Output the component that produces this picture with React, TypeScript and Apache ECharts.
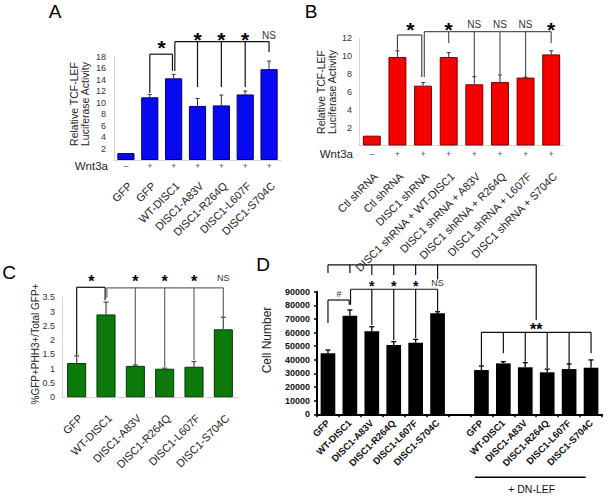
import React, { useEffect, useRef } from "react";
import * as echarts from "echarts";

const FONT = '"Liberation Sans", Arial, sans-serif';

// ---------- Panel A ----------
const aCategories = ["GFP", "GFP", "WT-DISC1", "DISC1-A83V", "DISC1-R264Q", "DISC1-L607F", "DISC1-S704C"];
const aWnt3a = ["–", "+", "+", "+", "+", "+", "+"];
const aValues = [1.2, 10.9, 14.2, 9.4, 9.5, 11.4, 15.8];
const aErrors = [0, 0.5, 0.7, 1.3, 1.8, 0.6, 1.4];
const aTicks = [0, 18, 2];

// ---------- Panel B ----------
const bCategories = [
  "Ctl shRNA",
  "Ctl shRNA",
  "DISC1 shRNA",
  "DISC1 shRNA + WT-DISC1",
  "DISC1 shRNA + A83V",
  "DISC1 shRNA + R264Q",
  "DISC1 shRNA + L607F",
  "DISC1 shRNA + S704C",
];
const bWnt3a = ["–", "+", "+", "+", "+", "+", "+", "+"];
const bValues = [1.1, 9.9, 6.7, 9.9, 6.85, 7.1, 7.6, 10.2];
const bErrors = [0, 0.7, 0.35, 0.5, 0.85, 0.8, 0.05, 0.4];
const bTicks = [0, 12, 2];

// ---------- Panel C ----------
const cCategories = ["GFP", "WT-DISC1", "DISC1-A83V", "DISC1-R264Q", "DISC1-L607F", "DISC1-S704C"];
const cValues = [1.2, 2.9, 1.1, 1.0, 1.07, 2.38];
const cErrors = [0.25, 0.43, 0.03, 0.02, 0.18, 0.42];
const cTicks = [0, 3.5, 0.5];

// ---------- Panel D ----------
const dCategories = [
  "GFP", "WT-DISC1", "DISC1-A83V", "DISC1-R264Q", "DISC1-L607F", "DISC1-S704C",
  "",
  "GFP", "WT-DISC1", "DISC1-A83V", "DISC1-R264Q", "DISC1-L607F", "DISC1-S704C",
];
const dValues = [44800, 72400, 60900, 50900, 52600, 74100, null, 32500, 37400, 34500, 30800, 33200, 34200];
const dErrors = [2400, 4200, 3400, 2400, 2400, 1200, 0, 3000, 1200, 3400, 2400, 3700, 5700];
const dTicks = [0, 90000, 10000];

// ---------- Significance annotations (data coordinates: category index, value) ----------
type Bracket = { y: number; from: number; to: number; drops: number[][]; color: string };
const aBrackets: Bracket[] = [
  { y: 18.4, from: 1, to: 1.95, drops: [[1, 11.65], [1.95, 15.5]], color: "#111" },
  { y: 20.6, from: 2.05, to: 6, drops: [[2.05, 15.5], [3, 12.7], [4, 12.7], [5, 12.7], [6, 18.8]], color: "#111" },
];
const aMarks: [string, number, number][] = [["*", 1.5, 20.3], ["*", 3, 21.7], ["*", 4, 21.7], ["*", 5, 21.7], ["NS", 6, 21.7]];

const bBrackets: Bracket[] = [
  { y: 12.37, from: 1, to: 1.95, drops: [[1, 10.7], [1.95, 7.67]], color: "#444" },
  { y: 12.74, from: 2.05, to: 7, drops: [[2.05, 7.67], [3, 11.48], [4, 7.67], [5, 8.0], [6, 7.56], [7, 11.48]], color: "#555" },
];
const bMarks: [string, number, number][] = [["*", 1.5, 13.5], ["*", 3, 13.5], ["NS", 4, 13.5], ["NS", 5, 13.5], ["NS", 6, 13.5], ["*", 7, 13.5]];

const cBrackets: Bracket[] = [
  { y: 3.85, from: 0, to: 0.97, drops: [[0, 1.48], [0.97, 3.4]], color: "#111" },
  { y: 3.83, from: 1.03, to: 5, drops: [[1.03, 3.48], [2, 1.13], [3, 1.06], [4, 1.3], [5, 2.81]], color: "#666" },
];
const cMarks: [string, number, number][] = [["*", 0.5, 4.18], ["*", 2, 4.18], ["*", 3, 4.18], ["*", 4, 4.18], ["NS", 5, 4.18]];

const dBrackets: Bracket[] = [
  { y: 109700, from: 0, to: 9.5, drops: [[0, 103700], [1, 103700], [2, 102300], [3, 102300], [4, 102300], [5, 99000], [9.5, 69300]], color: "#111" },
  { y: 83900, from: 0, to: 0.97, drops: [[0, 67000], [0.97, 80400]], color: "#111" },
  { y: 91800, from: 1.03, to: 5, drops: [[1.03, 80400], [2, 65600], [3, 54600], [4, 56000], [5, 75300]], color: "#111" },
  { y: 60200, from: 7, to: 12, drops: [[7, 36200], [8, 44800], [9, 38600], [10, 34000], [11, 36900], [12, 44800]], color: "#111" },
];
const dMarks: [string, number, number][] = [["#", 0.5, 88300], ["*", 2, 96600], ["*", 3, 96600], ["*", 4, 96600], ["NS", 5, 96600], ["**", 9.5, 64800]];

const errRender = (color: string, lw: number, cap: number) => (params: any, api: any) => {
  const x = api.value(0);
  const v = api.value(1);
  const u = api.value(2);
  const p0 = api.coord([x, v]);
  const p1 = api.coord([x, u]);
  return {
    type: "group",
    children: [
      { type: "line", shape: { x1: p0[0], y1: p0[1], x2: p1[0], y2: p1[1] }, style: { stroke: color, lineWidth: lw } },
      { type: "line", shape: { x1: p1[0] - cap, y1: p1[1], x2: p1[0] + cap, y2: p1[1] }, style: { stroke: color, lineWidth: lw } },
    ],
  };
};

const errData = (vals: (number | null)[], errs: number[]) =>
  vals
    .map((v, i) => (v == null || !errs[i] ? null : [i, v, v + errs[i]]))
    .filter((d) => d !== null) as number[][];

const lightLine = { show: true, lineStyle: { color: "#d4d4d4", width: 1 } };
const hideZero = (v: number) => (v === 0 ? "" : String(v));

function buildOption(): any {
  const catLabel = (extra: any) => ({ interval: 0, fontFamily: FONT, color: "#222", ...extra });
  return {
    animation: false,
    backgroundColor: "#ffffff",
    grid: [
      { left: 114, top: 56.5, width: 167, height: 103.5 },
      { left: 359, top: 38.3, width: 205, height: 107.2 },
      { left: 62, top: 297.3, width: 176, height: 100 },
      { left: 317, top: 291.7, width: 285, height: 122.6 },
    ],
    xAxis: [
      { gridIndex: 0, type: "category", position: "bottom", data: aWnt3a, axisLine: lightLine, axisTick: { show: false },
        axisLabel: catLabel({ fontSize: 9, color: "#555", margin: 1 }) },
      { gridIndex: 0, type: "category", position: "bottom", data: aCategories, axisLine: { show: false }, axisTick: { show: false },
        axisLabel: catLabel({ fontSize: 11, rotate: 45, margin: 20, verticalAlign: "top" }) },
      { gridIndex: 1, type: "category", position: "bottom", data: bWnt3a, axisLine: lightLine, axisTick: { show: false },
        axisLabel: catLabel({ fontSize: 9, color: "#555", margin: 4 }) },
      { gridIndex: 1, type: "category", position: "bottom", data: bCategories, axisLine: { show: false }, axisTick: { show: false },
        axisLabel: catLabel({ fontSize: 11, rotate: 45, margin: 25, verticalAlign: "top" }) },
      { gridIndex: 2, type: "category", position: "bottom", data: cCategories, axisLine: lightLine, axisTick: { show: false },
        axisLabel: catLabel({ fontSize: 11, rotate: 45, margin: 15, verticalAlign: "top" }) },
      { gridIndex: 3, type: "category", position: "bottom", data: dCategories,
        axisLine: { show: true, lineStyle: { color: "#000", width: 2 } },
        axisTick: { show: true, length: 3, lineStyle: { color: "#000", width: 1.5 } },
        axisLabel: catLabel({ fontSize: 9.5, fontWeight: "bold", rotate: 45, margin: 7, color: "#111" }) },
    ],
    yAxis: [
      { gridIndex: 0, type: "value", min: aTicks[0], max: aTicks[1], interval: aTicks[2], axisLine: lightLine, axisTick: { show: false },
        splitLine: { show: false }, axisLabel: { fontFamily: FONT, fontSize: 9, color: "#333", margin: 8, formatter: hideZero } },
      { gridIndex: 1, type: "value", min: bTicks[0], max: bTicks[1], interval: bTicks[2], axisLine: lightLine, axisTick: { show: false },
        splitLine: { show: false }, axisLabel: { fontFamily: FONT, fontSize: 9, color: "#333", margin: 7, formatter: hideZero } },
      { gridIndex: 2, type: "value", min: cTicks[0], max: cTicks[1], interval: cTicks[2], axisLine: lightLine, axisTick: { show: false },
        splitLine: { show: false }, axisLabel: { fontFamily: FONT, fontSize: 9, color: "#333", margin: 7 } },
      { gridIndex: 3, type: "value", min: dTicks[0], max: dTicks[1], interval: dTicks[2],
        axisLine: { show: true, lineStyle: { color: "#000", width: 2 } },
        axisTick: { show: true, length: 3, lineStyle: { color: "#000", width: 1.5 } },
        splitLine: { show: false },
        axisLabel: { fontFamily: FONT, fontSize: 9, fontWeight: "bold", color: "#111", margin: 7, formatter: (v: number) => String(v) } },
    ],
    series: [
      { type: "bar", xAxisIndex: 0, yAxisIndex: 0, data: aValues, barWidth: "72%",
        itemStyle: { color: "#0a0af2", borderColor: "#00006e", borderWidth: 1 } },
      { type: "custom", xAxisIndex: 0, yAxisIndex: 0, data: errData(aValues, aErrors), encode: { x: 0, y: 1 }, z: 3,
        renderItem: errRender("#333", 1, 2) },
      { type: "bar", xAxisIndex: 2, yAxisIndex: 1, data: bValues, barWidth: "70%",
        itemStyle: { color: "#f70000", borderColor: "#7a0000", borderWidth: 1 } },
      { type: "custom", xAxisIndex: 2, yAxisIndex: 1, data: errData(bValues, bErrors), encode: { x: 0, y: 1 }, z: 3,
        renderItem: errRender("#333", 1, 2) },
      { type: "bar", xAxisIndex: 4, yAxisIndex: 2, data: cValues, barWidth: "65%",
        itemStyle: { color: "#0b7a0b", borderColor: "#063806", borderWidth: 1 } },
      { type: "custom", xAxisIndex: 4, yAxisIndex: 2, data: errData(cValues, cErrors), encode: { x: 0, y: 1 }, z: 3,
        renderItem: errRender("#555", 1.3, 2.5) },
      { type: "bar", xAxisIndex: 5, yAxisIndex: 3, data: dValues, barWidth: "67%",
        itemStyle: { color: "#000" } },
      { type: "custom", xAxisIndex: 5, yAxisIndex: 3, data: errData(dValues, dErrors), encode: { x: 0, y: 1 }, z: 3,
        renderItem: errRender("#000", 1.3, 2.5) },
    ],
  };
}

function buildGraphics(chart: any): any[] {
  const els: any[] = [];
  const panels = [
    { xi: 0, yi: 0, brackets: aBrackets, marks: aMarks, star: 21, ns: 10 },
    { xi: 2, yi: 1, brackets: bBrackets, marks: bMarks, star: 21, ns: 10 },
    { xi: 4, yi: 2, brackets: cBrackets, marks: cMarks, star: 16, ns: 9 },
    { xi: 5, yi: 3, brackets: dBrackets, marks: dMarks, star: 14, ns: 9 },
  ];
  for (const p of panels) {
    const raw = (x: number, y: number) => chart.convertToPixel({ xAxisIndex: p.xi, yAxisIndex: p.yi }, [x, y]);
    // category axes snap to whole categories, so interpolate fractional positions between neighbours
    const px = (x: number, y: number) => {
      const i0 = Math.floor(x);
      const f = x - i0;
      const a = raw(i0, y);
      if (f === 0) return a;
      const b = raw(i0 + 1, y);
      return [a[0] + f * (b[0] - a[0]), a[1]];
    };
    for (const b of p.brackets) {
      const l = px(b.from, b.y);
      const r = px(b.to, b.y);
      els.push({ type: "line", shape: { x1: l[0], y1: l[1], x2: r[0], y2: r[1] }, style: { stroke: b.color, lineWidth: 1.2 } });
      for (const d of b.drops) {
        const t = px(d[0], b.y);
        const e = px(d[0], d[1]);
        els.push({ type: "line", shape: { x1: t[0], y1: t[1], x2: e[0], y2: e[1] }, style: { stroke: b.color, lineWidth: 1.2 } });
      }
    }
    for (const m of p.marks) {
      const pt = px(m[1], m[2]);
      const isStar = m[0].indexOf("*") >= 0;
      const size = isStar ? (m[0] === "**" ? p.star + 2 : p.star) : p.ns;
      els.push({
        type: "text",
        x: pt[0],
        y: pt[1] + (isStar ? size * 0.22 : 0),
        style: {
          text: m[0],
          font: `${isStar ? "bold " : ""}${size}px ${FONT}`,
          fill: isStar ? "#000" : "#333",
          align: "center",
          verticalAlign: "middle",
        },
      });
    }
  }
  // panel letters
  const letters: [string, number, number][] = [["A", 55, 11], ["B", 311, 11], ["C", 9, 272], ["D", 263, 264]];
  for (const l of letters) {
    els.push({ type: "text", x: l[1], y: l[2], style: { text: l[0], font: `19px ${FONT}`, fill: "#000", align: "center", verticalAlign: "middle" } });
  }
  // axis titles
  const titles: [string, number, number, number][] = [
    ["Relative TCF-LEF\nLuciferase Activity", 79.5, 104, 10.5],
    ["Relative TCF-LEF\nLuciferase Activity", 326.5, 92, 10.5],
    ["%GFP+PHH3+/Total GFP+", 35, 344, 10],
    ["Cell Number", 266.7, 340, 12],
  ];
  for (const t of titles) {
    els.push({
      type: "text", x: t[1], y: t[2], rotation: Math.PI / 2,
      style: { text: t[0], font: `${t[3]}px ${FONT}`, fill: "#222", align: "center", verticalAlign: "middle", lineHeight: t[3] + 1 },
    });
  }
  // Wnt3a row labels
  els.push({ type: "text", x: 108, y: 165.5, style: { text: "Wnt3a", font: `11.5px ${FONT}`, fill: "#222", align: "right", verticalAlign: "middle" } });
  els.push({ type: "text", x: 353, y: 154, style: { text: "Wnt3a", font: `11.5px ${FONT}`, fill: "#222", align: "right", verticalAlign: "middle" } });
  // + DN-LEF group marker
  els.push({ type: "line", shape: { x1: 475, y1: 477.3, x2: 585.7, y2: 477.3 }, style: { stroke: "#000", lineWidth: 1.5 } });
  els.push({ type: "text", x: 531.7, y: 489, style: { text: "+ DN-LEF", font: `10.5px ${FONT}`, fill: "#111", align: "center", verticalAlign: "middle" } });
  return els;
}

export default function App() {
  const ref = useRef<HTMLDivElement>(null);
  useEffect(() => {
    const chart = echarts.init(ref.current!, null, { renderer: "svg" });
    chart.setOption(buildOption());
    chart.setOption({ graphic: { elements: buildGraphics(chart) } });
    return () => chart.dispose();
  }, []);
  return (
    <div
      ref={ref}
      style={{ position: "absolute", left: 0, top: 0, width: 608, height: 496, background: "#fff" }}
    />
  );
}
